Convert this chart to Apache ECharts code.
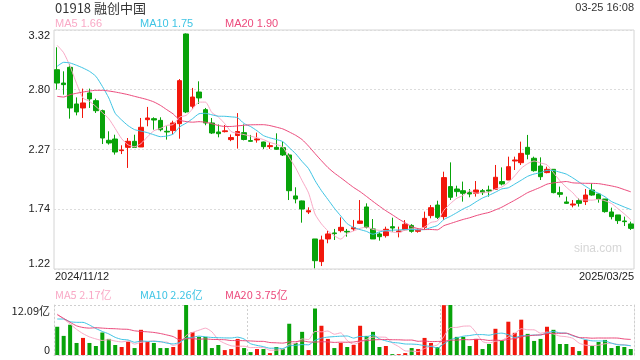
<!DOCTYPE html>
<html>
<head>
<meta charset="utf-8">
<script src="https://cdn.jsdelivr.net/npm/echarts@6/dist/echarts.min.js"></script>
<style>
html, body { margin: 0; padding: 0; background: #fff; }
#kline { width: 640px; height: 360px; }
</style>
</head>
<body>
<div id="kline"></div>
<script>
const stockTitle = '01918 融创中国'
const updateTime = '03-25 16:08'

const dates = [
  '2024/11/12', '2024/11/13', '2024/11/14', '2024/11/15', '2024/11/18', '2024/11/19', '2024/11/20', '2024/11/21', '2024/11/22',
  '2024/11/25', '2024/11/26', '2024/11/27', '2024/11/28', '2024/11/29',
  '2024/12/02', '2024/12/03', '2024/12/04', '2024/12/05', '2024/12/06', '2024/12/09', '2024/12/10', '2024/12/11', '2024/12/12',
  '2024/12/13', '2024/12/16', '2024/12/17', '2024/12/18', '2024/12/19', '2024/12/20', '2024/12/23', '2024/12/24', '2024/12/27',
  '2024/12/30', '2024/12/31',
  '2025/01/02', '2025/01/03', '2025/01/06', '2025/01/07', '2025/01/08', '2025/01/09', '2025/01/10', '2025/01/13', '2025/01/14',
  '2025/01/15', '2025/01/16', '2025/01/17', '2025/01/20', '2025/01/21', '2025/01/22', '2025/01/23', '2025/01/24', '2025/01/27',
  '2025/01/28',
  '2025/02/03', '2025/02/04', '2025/02/05', '2025/02/06', '2025/02/07', '2025/02/10', '2025/02/11', '2025/02/12', '2025/02/13',
  '2025/02/14', '2025/02/17', '2025/02/18', '2025/02/19', '2025/02/20', '2025/02/21', '2025/02/24', '2025/02/25', '2025/02/26',
  '2025/02/27', '2025/02/28',
  '2025/03/03', '2025/03/04', '2025/03/05', '2025/03/06', '2025/03/07', '2025/03/10', '2025/03/11', '2025/03/12', '2025/03/13',
  '2025/03/14', '2025/03/17', '2025/03/18', '2025/03/19', '2025/03/20', '2025/03/21', '2025/03/24', '2025/03/25'
]

// 开 收 低 高
const opens = [
  2.971, 2.854, 2.992, 2.670, 2.635, 2.767, 2.699, 2.611, 2.351, 2.362,
  2.260, 2.289, 2.342, 2.292, 2.532, 2.541, 2.526, 2.430, 2.436, 2.497,
  3.285, 2.650, 2.775, 2.620, 2.503, 2.424, 2.427, 2.357, 2.393, 2.418,
  2.348, 2.354, 2.336, 2.295, 2.289, 2.286, 2.222, 1.862, 1.818, 1.721,
  1.484, 1.285, 1.484, 1.537, 1.557, 1.551, 1.572, 1.621, 1.765, 1.572,
  1.528, 1.513, 1.592, 1.548, 1.565, 1.603, 1.551, 1.586, 1.689, 1.782,
  1.680, 1.944, 1.923, 1.908, 1.891, 1.885, 1.908, 1.914, 1.920, 1.988,
  2.002, 2.169, 2.154, 2.289, 2.193, 2.125, 2.067, 2.096, 1.891, 1.809,
  1.782, 1.821, 1.812, 1.914, 1.879, 1.835, 1.721, 1.695, 1.642, 1.616
]
const closes = [
  2.854, 2.840, 2.635, 2.600, 2.679, 2.714, 2.611, 2.371, 2.327, 2.248,
  2.266, 2.342, 2.289, 2.465, 2.547, 2.529, 2.444, 2.424, 2.503, 2.875,
  2.600, 2.731, 2.723, 2.503, 2.415, 2.409, 2.434, 2.375, 2.428, 2.358,
  2.342, 2.363, 2.295, 2.304, 2.272, 2.222, 1.908, 1.835, 1.747, 1.732,
  1.293, 1.475, 1.528, 1.531, 1.586, 1.545, 1.583, 1.642, 1.586, 1.484,
  1.504, 1.569, 1.580, 1.554, 1.613, 1.551, 1.560, 1.665, 1.759, 1.674,
  2.023, 1.850, 1.900, 1.885, 1.879, 1.914, 1.891, 1.905, 2.026, 1.967,
  2.119, 2.178, 2.236, 2.228, 2.084, 2.031, 2.096, 1.891, 1.876, 1.797,
  1.791, 1.797, 1.870, 1.870, 1.835, 1.724, 1.680, 1.645, 1.636, 1.577
]
const lows = [
  2.796, 2.752, 2.541, 2.570, 2.547, 2.635, 2.591, 2.318, 2.313, 2.225,
  2.230, 2.108, 2.289, 2.292, 2.474, 2.444, 2.430, 2.357, 2.406, 2.365,
  2.590, 2.629, 2.670, 2.483, 2.406, 2.377, 2.420, 2.343, 2.278, 2.350,
  2.339, 2.330, 2.275, 2.275, 2.266, 2.213, 1.826, 1.797, 1.627, 1.703,
  1.226, 1.246, 1.446, 1.475, 1.542, 1.504, 1.554, 1.615, 1.577, 1.484,
  1.469, 1.496, 1.548, 1.498, 1.560, 1.539, 1.539, 1.563, 1.665, 1.659,
  1.651, 1.826, 1.856, 1.812, 1.850, 1.856, 1.870, 1.856, 1.914, 1.955,
  2.002, 2.090, 2.134, 2.184, 2.075, 2.002, 2.061, 1.885, 1.850, 1.791,
  1.762, 1.768, 1.782, 1.864, 1.803, 1.715, 1.656, 1.616, 1.598, 1.563
]
const highs = [
  3.168, 2.957, 3.021, 2.728, 2.805, 2.805, 2.717, 2.620, 2.430, 2.400,
  2.307, 2.371, 2.400, 2.547, 2.644, 2.553, 2.553, 2.474, 2.523, 2.889,
  3.290, 2.811, 2.869, 2.635, 2.547, 2.490, 2.485, 2.402, 2.590, 2.490,
  2.398, 2.418, 2.339, 2.333, 2.412, 2.339, 2.236, 1.938, 1.821, 1.762,
  1.484, 1.513, 1.557, 1.572, 1.674, 1.572, 1.651, 1.826, 1.797, 1.659,
  1.542, 1.592, 1.671, 1.592, 1.650, 1.614, 1.577, 1.724, 1.782, 1.820,
  2.075, 2.157, 1.952, 1.988, 1.923, 1.993, 1.923, 1.952, 2.134, 2.113,
  2.207, 2.207, 2.339, 2.398, 2.207, 2.201, 2.119, 2.096, 1.944, 1.856,
  1.826, 1.841, 1.923, 1.973, 1.885, 1.835, 1.759, 1.695, 1.680, 1.636
]

// 成交量（亿）
const volumes = [
  6.83, 4.62, 7.32, 2.91, 4.13, 2.91, 2.17, 5.44, 3.89, 2.42,
  1.93, 3.23, 1.68, 6.09, 3.23, 2.91, 1.68, 1.68, 1.93, 6.09,
  12.09, 5.52, 4.38, 4.38, 1.68, 2.42, 1.19, 1.44, 3.89, 1.68,
  0.70, 1.44, 1.44, 0.46, 1.93, 1.44, 7.56, 2.91, 5.60, 1.19,
  11.24, 7.07, 3.89, 1.68, 2.91, 1.93, 2.42, 7.07, 4.62, 5.60,
  1.93, 2.17, 0.21, 0.21, 0.46, 1.68, 1.44, 4.13, 2.91, 1.93,
  12.05, 12.09, 4.38, 4.38, 2.17, 3.89, 1.44, 2.66, 6.34, 3.48,
  8.05, 5.36, 8.54, 5.11, 3.40, 3.89, 6.83, 6.09, 2.66, 2.66,
  1.93, 0.95, 3.64, 2.17, 3.15, 3.64, 1.68, 2.17, 1.93, 1.44
]

// 区间开始前的均线值（图上读取）
const priceMa5Head = [3.185, 3.12, 3.00, 2.85]
const priceMa10Head = [3.001, 3.036, 3.030, 3.010, 2.986, 2.957, 2.913, 2.825, 2.723]
const priceMa20Head = [2.737, 2.731, 2.752, 2.764, 2.775, 2.784, 2.790, 2.790, 2.784, 2.775,
  2.764, 2.752, 2.737, 2.723, 2.708, 2.688, 2.658, 2.620, 2.582]
const volMa5Head = [9.9, 8.7, 7.5, 6.2]
const volMa10Head = [8.7, 8.7, 8.05, 7.9, 7.9, 7.25, 6.4, 5.7, 5.1]
const volMa20Head = [9.75, 8.85, 7.9, 7.05, 6.65, 6.5, 6.6, 6.5, 6.4, 6.35,
  6.25, 6.2, 5.85, 5.7, 5.6, 5.45, 5.2, 4.85, 4.45]

const priceTicks = ['1.22', '1.74', '2.27', '2.80', '3.32']
const volTicks = ['0', '12.09亿']
const priceMaLegend = ['MA5 1.66', 'MA10 1.75', 'MA20 1.90']
const volMaLegend = ['MA5 2.17亿', 'MA10 2.26亿', 'MA20 3.75亿']

const upColor = '#f2170c'
const downColor = '#08a30a'
const maColors = ['#f9a9c6', '#3ec4e4', '#ec4a7c']
const fontEn = '"Liberation Sans", Arial, sans-serif'
const fontCn = '"Noto Sans CJK SC", "Liberation Sans", sans-serif'

const calcMa = (values, n, head) =>
  values.map((v, i) => {
    if (i < n - 1) return head[i]
    let sum = 0
    for (let k = i - n + 1; k <= i; k++) sum += values[k]
    return +(sum / n).toFixed(4)
  })

const priceMa = [calcMa(closes, 5, priceMa5Head), calcMa(closes, 10, priceMa10Head), calcMa(closes, 20, priceMa20Head)]
const volMa = [calcMa(volumes, 5, volMa5Head), calcMa(volumes, 10, volMa10Head), calcMa(volumes, 20, volMa20Head)]

const chart = echarts.init(document.getElementById('kline'), null, { renderer: 'canvas' })

const lineSeries = (name, data, color, xi, yi) => ({
  name,
  type: 'line',
  data,
  xAxisIndex: xi,
  yAxisIndex: yi,
  showSymbol: false,
  smooth: 0.2,
  silent: true,
  lineStyle: { color, width: 1 },
  z: 5
})

const text = (x, y, str, color, opts = {}) => ({
  type: 'text',
  x,
  y,
  silent: true,
  style: {
    text: str,
    fill: color,
    font: opts.font || '11px ' + fontEn,
    align: opts.align || 'left',
    verticalAlign: 'middle'
  }
})

const option = {
  animation: false,
  backgroundColor: '#fff',
  grid: [
    { left: 54, right: 6, top: 30, height: 239, show: true, borderColor: '#d4d4d4', borderWidth: 1 },
    { left: 54, right: 6, top: 305, height: 50 }
  ],
  xAxis: [
    {
      type: 'category',
      gridIndex: 0,
      data: dates,
      boundaryGap: true,
      axisLine: { show: false },
      axisTick: { show: false },
      axisLabel: { show: false },
      splitLine: { show: false }
    },
    {
      type: 'category',
      gridIndex: 1,
      data: dates,
      boundaryGap: true,
      axisLine: { show: true, lineStyle: { color: '#cfcfcf', type: [2, 2] } },
      axisTick: { show: false },
      axisLabel: { show: false },
      splitLine: {
        show: true,
        interval: (index) => index % 30 === 0,
        lineStyle: { color: '#cfcfcf', type: [2, 2] }
      }
    }
  ],
  yAxis: [
    {
      type: 'value',
      gridIndex: 0,
      min: 1.22,
      max: 3.32,
      interval: 0.525,
      axisLine: { show: false },
      axisTick: { show: false },
      axisLabel: {
        color: '#222',
        fontSize: 11,
        fontFamily: fontEn,
        margin: 4,
        showMinLabel: true,
        showMaxLabel: true,
        verticalAlignMinLabel: 'bottom',
        verticalAlignMaxLabel: 'top',
        formatter: (v) => priceTicks[Math.round((v - 1.22) / 0.525)]
      },
      splitLine: { show: true, lineStyle: { color: '#dcdcdc', type: [2, 2] } }
    },
    {
      type: 'value',
      gridIndex: 1,
      min: 0,
      max: 12.09,
      interval: 12.09,
      axisLine: { show: true, lineStyle: { color: '#cfcfcf', type: [2, 2] } },
      axisTick: { show: false },
      axisLabel: {
        color: '#222',
        fontSize: 11,
        fontFamily: fontCn,
        margin: 4,
        showMinLabel: true,
        showMaxLabel: true,
        verticalAlignMinLabel: 'bottom',
        verticalAlignMaxLabel: 'top',
        formatter: (v) => (v === 0 ? volTicks[0] : volTicks[1])
      },
      splitLine: { show: true, lineStyle: { color: '#cfcfcf', type: [2, 2] } }
    },
    {
      type: 'value',
      gridIndex: 1,
      position: 'right',
      min: 0,
      max: 12.09,
      interval: 12.09,
      axisLine: { show: true, lineStyle: { color: '#cfcfcf', type: [2, 2] } },
      axisTick: { show: false },
      axisLabel: { show: false },
      splitLine: { show: false }
    }
  ],
  series: [
    {
      name: 'K',
      type: 'candlestick',
      xAxisIndex: 0,
      yAxisIndex: 0,
      barWidth: 5,
      silent: true,
      data: dates.map((d, i) => [opens[i], closes[i], lows[i], highs[i]]),
      itemStyle: {
        color: upColor,
        color0: downColor,
        borderColor: upColor,
        borderColor0: downColor,
        borderWidth: 1
      }
    },
    lineSeries('MA5', priceMa[0], maColors[0], 0, 0),
    lineSeries('MA10', priceMa[1], maColors[1], 0, 0),
    lineSeries('MA20', priceMa[2], maColors[2], 0, 0),
    {
      name: 'VOL',
      type: 'bar',
      xAxisIndex: 1,
      yAxisIndex: 1,
      barWidth: 4,
      silent: true,
      data: volumes,
      itemStyle: {
        color: (p) => (closes[p.dataIndex] >= opens[p.dataIndex] ? upColor : downColor)
      }
    },
    lineSeries('VMA5', volMa[0], maColors[0], 1, 1),
    lineSeries('VMA10', volMa[1], maColors[1], 1, 1),
    lineSeries('VMA20', volMa[2], maColors[2], 1, 1)
  ],
  graphic: [
    text(55, 8, stockTitle, '#333', { font: '13px ' + fontCn }),
    text(634, 8, updateTime, '#333', { align: 'right' }),
    text(55, 24, priceMaLegend[0], maColors[0]),
    text(140, 24, priceMaLegend[1], maColors[1]),
    text(225, 24, priceMaLegend[2], maColors[2]),
    text(55, 277, dates[0], '#222'),
    text(634, 277, dates[dates.length - 1], '#222', { align: 'right' }),
    text(55, 295, volMaLegend[0], maColors[0], { font: '11px ' + fontCn }),
    text(140, 295, volMaLegend[1], maColors[1], { font: '11px ' + fontCn }),
    text(225, 295, volMaLegend[2], maColors[2], { font: '11px ' + fontCn }),
    text(622, 249, 'sina.com', '#d6d6d6', { align: 'right', font: '12px ' + fontEn })
  ]
}

chart.setOption(option)
window.addEventListener('resize', () => chart.resize())
</script>
</body>
</html>
